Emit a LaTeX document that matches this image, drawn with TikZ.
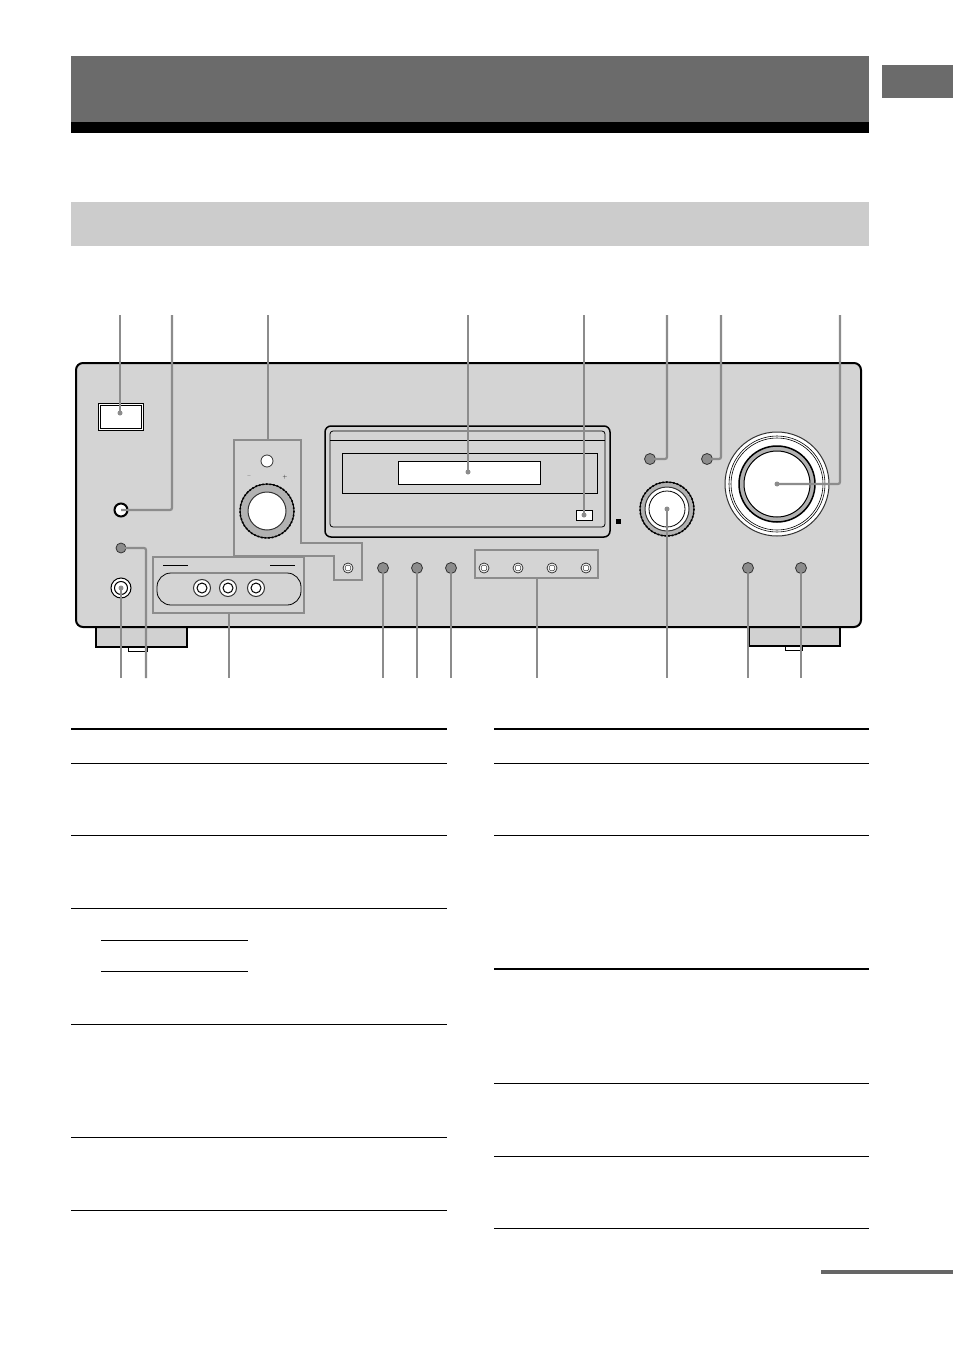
\documentclass[tikz,border=0pt]{standalone}
\begin{document}
\begin{tikzpicture}[x=1pt,y=-1pt,
 call/.style={draw=black!45,line width=2.2pt},
 dotc/.style={fill=black!45,circle,inner sep=0pt,minimum size=5pt},
 btn/.style={draw=black!80,fill=black!45,line width=0.8pt},
 ring/.style={draw=black!80,fill=white,line width=0.8pt},
 thin/.style={line width=0.7pt},
 thick/.style={line width=2.5pt}]
\useasboundingbox (0,0) rectangle (954,1351);
\fill[white] (0,0) rectangle (954,1351);
% headers
\fill[black!58] (71,56) rectangle (869,122);
\fill[black] (71,122) rectangle (869,133);
\fill[black!58] (882,65) rectangle (953,98);
\fill[black!20] (71,202) rectangle (869,246);
% feet
\draw[line width=1.2pt,fill=black!18] (96,625) rectangle (187,647);
\draw[line width=1pt] (128,647) rectangle (147,651);
\draw[line width=1.2pt,fill=black!18] (749,625) rectangle (840,646);
\draw[line width=1pt] (785,646) rectangle (802,650);
% panel
\draw[line width=2pt,fill=black!17,rounded corners=7pt] (76,363) rectangle (861,627);
% power
\draw[line width=0.8pt,fill=white] (98,403) rectangle (143,430);
\draw[line width=0.6pt] (100,405) rectangle (141,428);
% left column
\draw[line width=2pt,fill=white] (121,510) circle (6.5);
\draw[btn] (121,548) circle (5);
\draw[line width=1pt,fill=white] (121,588) circle (10);
\draw[line width=1pt] (121,588) circle (6.5);
% volume group
\draw[draw=black!45,line width=1.5pt] (234,440)--(301,440)--(301,543)--(362,543)--(362,580)--(334,580)--(334,556)--(234,556)--cycle;
\draw[ring] (267,461) circle (6);
\node[font=\tiny] at (249,477) {--};
\node[font=\tiny] at (285,477) {+};
\draw[line width=1.6pt,fill=black!30,dotted] (267,511) circle (27);
\draw[line width=1pt] (267,511) circle (27);
\draw[ring,line width=1pt] (267,511) circle (19);
\draw[ring] (348,568) circle (5); \draw (348,568) circle (3);
% input group
\draw[draw=black!45,line width=1.5pt] (153,557) rectangle (304,613);
\draw[line width=0.8pt,rounded corners=14pt] (157,573) rectangle (301,605);
\draw[line width=0.6pt] (163,565)--(188,565) (270,565)--(295,565);
\foreach \x in {202,228,256}{\draw[ring,line width=1pt] (\x,588) circle (8.5); \draw[line width=1pt] (\x,588) circle (5);}
% display
\draw[line width=1.5pt,rounded corners=6pt] (325,426) rectangle (610,537);
\draw[line width=0.8pt,rounded corners=3pt] (330,431) rectangle (605,527);
\draw[line width=0.6pt] (330,440)--(605,440);
\draw[line width=1pt] (342,453) rectangle (597,493);
\draw[line width=0.8pt,fill=white] (398,461) rectangle (540,484);
\draw[line width=0.8pt,fill=white] (576,510) rectangle (592,520);
\fill (616,519) rectangle (621,524);
% buttons row
\foreach \x in {383,417,451}{\draw[btn] (\x,568) circle (5.5);}
\draw[draw=black!45,line width=1.5pt] (475,550) rectangle (598,578);
\foreach \x in {484,518,552,586}{\draw[ring] (\x,568) circle (5); \draw (\x,568) circle (3);}
% right
\draw[btn] (650,459) circle (5.5);
\draw[btn] (707,459) circle (5.5);
\draw[line width=1.6pt,fill=black!30,dotted] (667,509) circle (27);
\draw[line width=1pt] (667,509) circle (27);
\draw[ring,line width=1pt] (667,509) circle (22);
\draw[line width=0.8pt] (667,509) circle (18);
\draw[ring,line width=1pt] (777,484) circle (52);
\draw[line width=0.6pt] (777,484) circle (48);
\draw[line width=0.6pt] (777,484) circle (46);
\draw[line width=1.5pt,fill=black!30] (777,484) circle (38);
\draw[line width=1pt,fill=white] (777,484) circle (33);
\draw[btn] (748,568) circle (5.5);
\draw[btn] (801,568) circle (5.5);
% callouts top
\coordinate (t1) at (120,413); \coordinate (t2) at (121,510); \coordinate (t4) at (468,472);
\coordinate (t5) at (584,515); \coordinate (t6) at (650,459); \coordinate (t7) at (707,459);
\coordinate (t8) at (777,484);
\draw[call] (t1)--(120,315);
\draw[call,rounded corners=2pt] (t2)--(172,510)--(172,315);
\draw[call] (268,440)--(268,315);
\draw[call] (t4)--(468,315);
\draw[call] (t5)--(584,315);
\draw[call,rounded corners=2pt] (t6)--(667,459)--(667,315);
\draw[call,rounded corners=2pt] (t7)--(721,459)--(721,315);
\draw[call,rounded corners=2pt] (t8)--(840,484)--(840,315);
\foreach \c in {t1,t4,t5,t8}{\node[dotc] at (\c) {};}
% callouts bottom
\draw[call] (121,588)--(121,678);
\draw[call,rounded corners=2pt] (121,548)--(146,548)--(146,678);
\draw[call] (229,613)--(229,678);
\foreach \x in {383,417,451,748,801}{\draw[call] (\x,568)--(\x,678);}
\draw[call] (537,578)--(537,678);
\draw[call] (667,509)--(667,678);
\node[dotc] at (121,588) {}; \node[dotc] at (667,509) {};
% tables
\draw[thick] (71,729)--(447,729);
\foreach \y in {763,835,908,1024,1137,1210}{\draw[thin] (71,\y)--(447,\y);}
\draw[thin] (101,940)--(248,940) (101,971)--(248,971);
\draw[thick] (494,729)--(869,729);
\foreach \y in {763,835,1083,1156,1228}{\draw[thin] (494,\y)--(869,\y);}
\draw[line width=1.5pt] (494,969)--(869,969);
\draw[line width=4pt,black!60] (821,1272)--(953,1272);
\end{tikzpicture}
\end{document}
